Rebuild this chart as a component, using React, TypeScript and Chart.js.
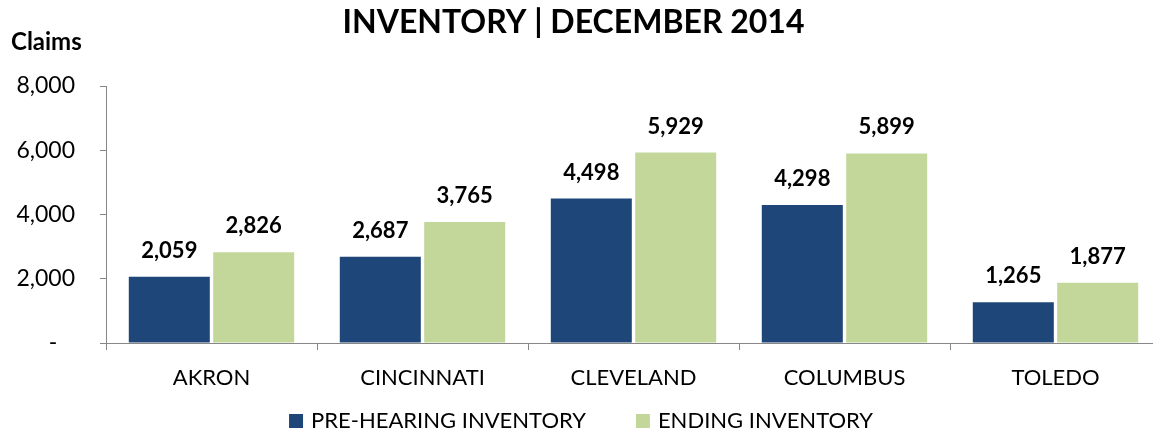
import React, { useEffect, useRef } from 'react';
import { Chart, registerables } from 'chart.js';

Chart.register(...registerables);

const categories = ['AKRON', 'CINCINNATI', 'CLEVELAND', 'COLUMBUS', 'TOLEDO'];
const preHearing = [2059, 2687, 4498, 4298, 1265];
const ending = [2826, 3765, 5929, 5899, 1877];
const seriesNames = ['PRE-HEARING INVENTORY', 'ENDING INVENTORY'];
const seriesColors = ['#1F4678', '#C4D79B'];
const yTicks = [0, 2000, 4000, 6000, 8000];
const titleText = 'INVENTORY | DECEMBER 2014';
const yAxisLabel = 'Claims';

const FONT = 'Lato';

const fmt = (v: number) => (v === 0 ? '-   ' : v.toLocaleString('en-US'));

const extras = {
  id: 'extras',
  afterDatasetsDraw(chart: any) {
    const ctx = chart.ctx;
    ctx.save();
    ctx.font = `bold 22px ${FONT}`;
    ctx.fillStyle = '#000';
    ctx.textAlign = 'center';
    ctx.textBaseline = 'alphabetic';
    chart.data.datasets.forEach((ds: any, di: number) => {
      const meta = chart.getDatasetMeta(di);
      meta.data.forEach((el: any, i: number) => {
        ctx.fillText(Number(ds.data[i]).toLocaleString('en-US'), el.x, el.y - 19);
      });
    });
    ctx.restore();
  },
  afterDraw(chart: any) {
    const ctx = chart.ctx;
    ctx.save();
    // axis caption
    ctx.font = `bold 24px ${FONT}`;
    ctx.fillStyle = '#000';
    ctx.textAlign = 'left';
    ctx.textBaseline = 'alphabetic';
    ctx.fillText(yAxisLabel, 11, 50);

    // legend
    ctx.font = `22px ${FONT}`;
    const box = 14;
    const gapText = 8;
    const gapItem = 50;
    const items = chart.data.datasets.map((ds: any) => ({
      text: ds.label,
      color: ds.backgroundColor,
      w: ctx.measureText(ds.label).width,
    }));
    let total = 0;
    items.forEach((it: any, i: number) => {
      total += box + gapText + it.w + (i < items.length - 1 ? gapItem : 0);
    });
    let x = 581 - total / 2;
    const baseline = 428;
    items.forEach((it: any) => {
      ctx.fillStyle = it.color;
      ctx.fillRect(x, baseline - box, box, box);
      x += box + gapText;
      ctx.fillStyle = '#000';
      ctx.fillText(it.text, x, baseline);
      x += it.w + gapItem;
    });
    ctx.restore();
  },
};

export default function App() {
  const ref = useRef<HTMLCanvasElement | null>(null);

  useEffect(() => {
    if (!ref.current) return;
    Chart.defaults.color = '#000';
    const chart = new Chart(ref.current, {
      type: 'bar',
      data: {
        labels: categories,
        datasets: [
          {
            label: seriesNames[0],
            data: preHearing,
            backgroundColor: seriesColors[0],
            categoryPercentage: 0.8,
            barPercentage: 0.96,
          },
          {
            label: seriesNames[1],
            data: ending,
            backgroundColor: seriesColors[1],
            categoryPercentage: 0.8,
            barPercentage: 0.96,
          },
        ],
      },
      options: {
        responsive: false,
        animation: false,
        devicePixelRatio: 1,
        layout: { padding: { left: -14, right: 0, top: 0, bottom: 37 } },
        plugins: {
          legend: { display: false },
          tooltip: { enabled: false },
          title: {
            display: true,
            text: titleText,
            color: '#000',
            font: { family: FONT, size: 32, weight: 'bold' },
            padding: { top: 3, bottom: 44.6 },
          },
        },
        scales: {
          x: {
            offset: true,
            grid: {
              display: true,
              drawOnChartArea: false,
              drawTicks: true,
              tickLength: 7,
              color: '#878787',
              offset: true,
            },
            border: { display: true, color: '#878787', width: 1 },
            ticks: {
              color: '#000',
              font: { family: FONT, size: 22 },
              padding: 15,
              maxRotation: 0,
              autoSkip: false,
            },
            afterFit: (s: any) => {
              s.height = 50;
            },
          },
          y: {
            min: 0,
            max: 8000,
            afterBuildTicks: (s: any) => {
              s.ticks = yTicks.map((v) => ({ value: v }));
            },
            grid: {
              display: true,
              drawOnChartArea: false,
              drawTicks: true,
              tickLength: 6,
              color: '#878787',
            },
            border: { display: true, color: '#878787', width: 1 },
            ticks: {
              color: '#000',
              font: { family: FONT, size: 23 },
              padding: 25,
              callback: (v: any) => fmt(Number(v)),
            },
            afterFit: (s: any) => {
              s.width = 120;
            },
          },
        },
      },
      plugins: [extras],
    });
    return () => chart.destroy();
  }, []);

  return (
    <div
      style={{
        position: 'absolute',
        left: 0,
        top: 0,
        width: 1153,
        height: 430,
        overflow: 'hidden',
        background: '#fff',
      }}
    >
      <canvas ref={ref} width={1161} height={430} style={{ display: 'block' }} />
    </div>
  );
}
